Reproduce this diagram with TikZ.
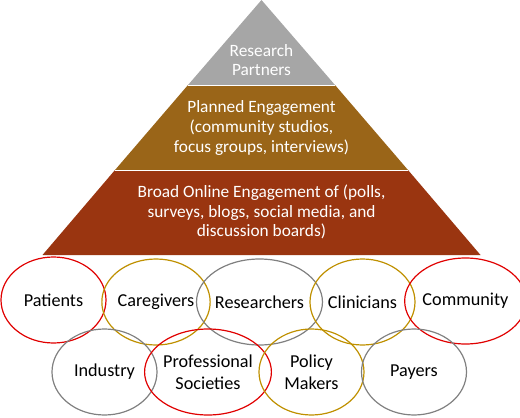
\documentclass[tikz,border=0pt]{standalone}
\usepackage{fontspec}
\setmainfont{Carlito}
\usetikzlibrary{shapes.geometric}
\definecolor{pgray}{HTML}{A6A6A6}
\definecolor{pbrown}{HTML}{9A6518}
\definecolor{prust}{HTML}{9A3510}
\definecolor{ered}{HTML}{E00000}
\definecolor{egold}{HTML}{BF9000}
\definecolor{egray}{HTML}{808080}
\tikzset{
  layer/.style={draw=white, line width=0.8pt},
  ltext/.style={text=white, align=center, font=\fontsize{17.3}{19.7}\selectfont},
  oval/.style={ellipse, minimum width=105pt, minimum height=86pt, line width=1.2pt, align=center, inner sep=0pt, font=\fontsize{18.2}{21.7}\selectfont},
  ored/.style={oval, draw=ered},
  ogold/.style={oval, draw=egold},
  ogray/.style={oval, draw=egray},
}
\begin{document}
\begin{tikzpicture}[x=1pt,y=-1pt]
\useasboundingbox (0,0) rectangle (520,418);
% pyramid layers
\fill[prust] (115,170) -- (408,170) -- (480.5,255) -- (42.5,255) -- cycle;
\fill[pbrown] (188,85) -- (335,85) -- (408,170) -- (115,170) -- cycle;
\fill[pgray] (261.5,0) -- (335,85) -- (188,85) -- cycle;
\draw[layer] (188,85) -- (335,85);
\draw[layer] (115,170) -- (408,170);
\node[ltext] (top) at (261.5,60) {Research\\Partners};
\node[ltext] (mid) at (261.5,128) {Planned Engagement\\(community studios,\\focus groups, interviews)};
\node[ltext] (bot) at (261.5,212) {Broad Online Engagement of (polls,\\surveys, blogs, social media, and\\discussion boards)};
% stakeholder ovals
\node[ored]  (patients)   at (53.5,300)  {Patients};
\node[ogold] (caregivers) at (156,302)   {Caregivers};
\node[ogray] (researchers) at (259.5,302) {Researchers};
\node[ogold] (clinicians) at (362.5,302) {Clinicians};
\node[ored]  (community)  at (465.5,301) {Community};
\node[ogray] (industry)   at (104.5,372) {Industry};
\node[ored]  (profsoc)    at (208,372)   {Professional\\Societies};
\node[ogold] (policy)     at (311.5,372) {Policy\\Makers};
\node[ogray] (payers)     at (414,372)   {Payers};
\end{tikzpicture}
\end{document}
